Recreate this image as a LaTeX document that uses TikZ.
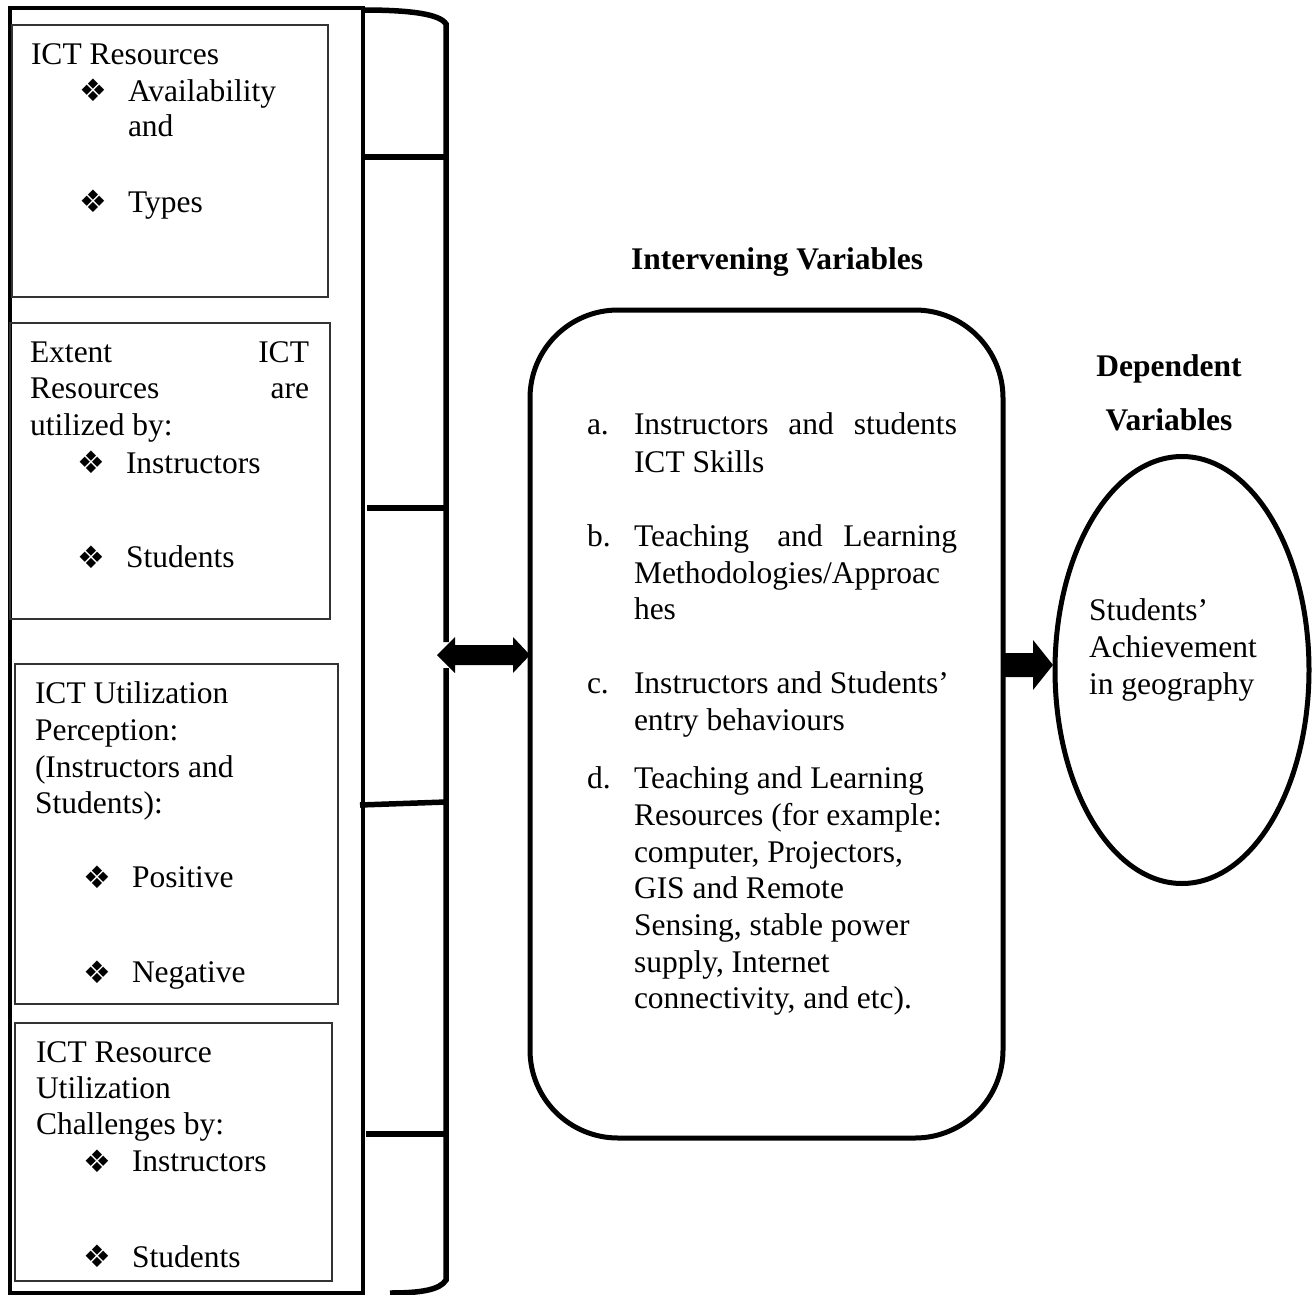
\documentclass[tikz,border=0pt]{standalone}
\usepackage{fontspec}
\setmainfont{Liberation Serif}
\newfontfamily\dvfont{DejaVu Sans}
\usetikzlibrary{shapes.geometric,calc}
\begin{document}
\begin{tikzpicture}[x=1pt,y=-1pt,
  txt/.style={anchor=base west,inner sep=0pt,outer sep=0pt,font=\fontsize{31.5}{36.7}\selectfont},
  hd/.style={anchor=base,inner sep=0pt,outer sep=0pt,font=\fontsize{31.5}{36.7}\selectfont\bfseries},
  bul/.style={anchor=center,inner sep=0pt,outer sep=0pt,font=\dvfont\fontsize{31}{34}\selectfont},
  thinbox/.style={draw=black!80,line width=1.2pt,anchor=north west,inner sep=0pt,outer sep=0pt},
  thick/.style={line width=5.5pt},
]
\useasboundingbox (0,0) rectangle (1314,1295);

% outer column box
\node[draw,line width=4.5pt,anchor=north west,inner sep=0pt,outer sep=0pt,minimum width=353pt,minimum height=1285pt] (outer) at (10,8) {};

% bracket
\draw[thick] (363,10) .. controls (410,10) and (440,14) .. (446,24) -- (446,642);
\draw[thick] (446,668) -- (446,1280) .. controls (440,1290) and (420,1293) .. (390,1293);
\draw[thick] (363,157) -- (446,157);
\draw[thick] (367,508) -- (446,508);
\draw[thick] (360,805) -- (446,802);
\draw[thick] (366,1134) -- (446,1134);

% inner boxes
\node[thinbox,minimum width=316pt,minimum height=272pt] (b1) at (12,25) {};
\node[thinbox,minimum width=320pt,minimum height=296pt] (b2) at (10,323) {};
\node[thinbox,minimum width=323pt,minimum height=340pt] (b3) at (15,664) {};
\node[thinbox,minimum width=317pt,minimum height=258pt] (b4) at (15,1023) {};

% box 1 text
\node[txt] (t11) at (31,65) {ICT Resources};
\node[bul] (u11) at (93,90) {❖};
\node[txt] (t12) at (128,102) {Availability};
\node[txt] (t13) at (128,137) {and};
\node[bul] (u12) at (93,201) {❖};
\node[txt] (t14) at (128,212) {Types};

% box 2 text
\node[txt] (t21) at (30,362) {\makebox[279pt][s]{Extent ICT}};
\node[txt] (t22) at (30,398) {\makebox[279pt][s]{Resources are}};
\node[txt] (t23) at (30,435) {utilized by:};
\node[bul] (u21) at (91.5,462) {❖};
\node[txt] (t24) at (126,473) {Instructors};
\node[bul] (u22) at (91.5,557) {❖};
\node[txt] (t25) at (126,567) {Students};

% box 3 text
\node[txt] (t31) at (35,703) {ICT Utilization};
\node[txt] (t32) at (35,740) {Perception:};
\node[txt] (t33) at (35,777) {(Instructors and};
\node[txt] (t34) at (35,813) {Students):};
\node[bul] (u31) at (97,877) {❖};
\node[txt] (t35) at (132,887) {Positive};
\node[bul] (u32) at (97,972) {❖};
\node[txt] (t36) at (132,982) {Negative};

% box 4 text
\node[txt] (t41) at (36,1062) {ICT Resource};
\node[txt] (t42) at (36,1098) {Utilization};
\node[txt] (t43) at (36,1134) {Challenges by:};
\node[bul] (u41) at (97,1161) {❖};
\node[txt] (t44) at (132,1171) {Instructors};
\node[bul] (u42) at (97,1256) {❖};
\node[txt] (t45) at (132,1267) {Students};

% intervening variables
\node[hd] (ivh) at (777,269) {Intervening Variables};
\node[draw,line width=5pt,rounded corners=88pt,inner sep=0pt,outer sep=0pt,minimum width=473pt,minimum height=828pt] (mid) at (766.5,724) {};
\node[txt] (la) at (587,434) {a.};
\node[txt] (ma1) at (634,434) {\makebox[323pt][s]{Instructors and students}};
\node[txt] (ma2) at (634,472) {ICT Skills};
\node[txt] (lb) at (587,546) {b.};
\node[txt] (mb1) at (634,546) {\makebox[323pt][s]{Teaching\hspace{8pt} and Learning}};
\node[txt] (mb2) at (634,583) {Methodologies/Approac};
\node[txt] (mb3) at (634,619) {hes};
\node[txt] (lc) at (587,693) {c.};
\node[txt] (mc1) at (634,693) {Instructors and Students’};
\node[txt] (mc2) at (634,730) {entry behaviours};
\node[txt] (ld) at (587,788) {d.};
\node[txt] (md1) at (634,788) {Teaching and Learning};
\node[txt] (md2) at (634,825) {Resources (for example:};
\node[txt] (md3) at (634,862) {computer, Projectors,};
\node[txt] (md4) at (634,898) {GIS and Remote};
\node[txt] (md5) at (634,935) {Sensing, stable power};
\node[txt] (md6) at (634,972) {supply, Internet};
\node[txt] (md7) at (634,1008) {connectivity, and etc).};

% dependent variables
\node[hd] (dvh1) at (1169,376) {Dependent};
\node[hd] (dvh2) at (1169,430) {Variables};
\node[draw,ellipse,line width=5pt,inner sep=0pt,outer sep=0pt,minimum width=254pt,minimum height=427pt] (dv) at (1182,670) {};
\node[txt] (e1) at (1089,620) {Students’};
\node[txt] (e2) at (1089,657) {Achievement};
\node[txt] (e3) at (1089,694) {in geography};

% double arrow between bracket and middle box
\coordinate (dl) at (437,655);
\coordinate (dr) at (mid.west |- dl);
\fill (dl) -- ++(18,-18) -- ++(0,8) -- ($(dr)+(-17,-10)$) -- ++(0,-8) -- (dr)
  -- ++(-17,18) -- ++(0,-8) -- ($(dl)+(18,10)$) -- ++(0,8) -- cycle;

% arrow from middle box to ellipse
\coordinate (rt) at (1053,665);
\coordinate (rs) at (mid.east |- rt);
\fill ($(rs)+(0,-12)$) -- ($(rt)+(-20,-12)$) -- ($(rt)+(-20,-25)$) -- (rt)
  -- ($(rt)+(-20,25)$) -- ($(rt)+(-20,12)$) -- ($(rs)+(0,12)$) -- cycle;
\end{tikzpicture}
\end{document}
